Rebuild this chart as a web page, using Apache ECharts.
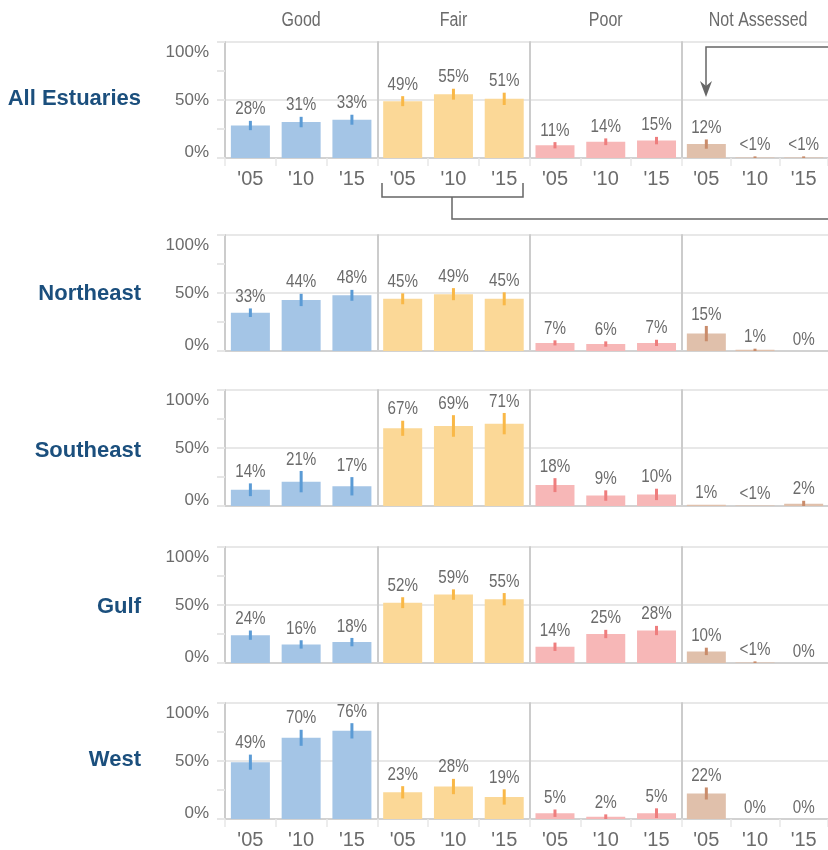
<!DOCTYPE html>
<html><head><meta charset="utf-8">
<script src="https://cdn.jsdelivr.net/npm/echarts@6/dist/echarts.min.js"></script>
<style>html,body{margin:0;padding:0;background:#fff}#c{width:828px;height:850px}</style>
</head><body><div id="c"></div>
<script>
// ---- data ----
const regions = ['All Estuaries', 'Northeast', 'Southeast', 'Gulf', 'West'];
const conditions = ['Good', 'Fair', 'Poor', 'Not Assessed'];
const years = ["'05", "'10", "'15"];
const yTickMax = 100;

// values per region, ordered Good('05,'10,'15), Fair, Poor, Not Assessed  (0.4 => "<1%")
const allEstuariesValues = [28, 31, 33, 49, 55, 51, 11, 14, 15, 12, 0.4, 0.4];
const northeastValues    = [33, 44, 48, 45, 49, 45, 7, 6, 7, 15, 1, 0];
const southeastValues    = [14, 21, 17, 67, 69, 71, 18, 9, 10, 1, 0.4, 2];
const gulfValues         = [24, 16, 18, 52, 59, 55, 14, 25, 28, 10, 0.4, 0];
const westValues         = [49, 70, 76, 23, 28, 19, 5, 2, 5, 22, 0, 0];

// error half-widths (percentage points)
const allEstuariesErr = [4, 4.5, 4.3, 4.3, 4.7, 5.3, 2.7, 2.9, 3.2, 4, 1, 1];
const northeastErr    = [3.7, 5.3, 4.7, 4.7, 5.2, 5.6, 2.2, 2.3, 2.7, 6.6, 1, 0];
const southeastErr    = [5.5, 9.2, 7.9, 6.5, 9.3, 9.2, 6, 4.5, 4.9, 0, 0, 2.5];
const gulfErr         = [4, 3.6, 3.6, 4.7, 4.5, 5.3, 3.6, 3.6, 4, 3.2, 1, 0];
const westErr         = [6.5, 6.9, 6.6, 5.3, 6.6, 6.6, 3.2, 2, 4.2, 5.2, 0, 0];

const regionValues = [allEstuariesValues, northeastValues, southeastValues, gulfValues, westValues];
const regionErr = [allEstuariesErr, northeastErr, southeastErr, gulfErr, westErr];

// ---- styles / layout ----
const barColors = ['#a4c5e6', '#fbd897', '#f7b7b7', '#e0c0ab'];
const errColors = ['#5b9bd5', '#f9b847', '#ee7e7e', '#c98c6b'];
const REG = '"Liberation Sans", Arial, sans-serif';
const NARROW_SCALE = 0.82;
const textGray = '#6b6b6b';
const colLeft = [225, 377.3, 529.6, 682];
const colW = 152.3;
const rowTop = [42, 235, 390, 547, 703];
const rowH = 116;
const titleY = [99, 294, 451, 607, 760];

function fmt(v) { return (v > 0 && v < 1) ? '<1%' : Math.round(v) + '%'; }

const grids = [], xAxes = [], yAxes = [], series = [];
let gi = 0;
for (let r = 0; r < regions.length; r++) {
  for (let c = 0; c < conditions.length; c++) {
    grids.push({ left: colLeft[c], top: rowTop[r], width: colW, height: rowH, containLabel: false });
    const showX = (r === 0 || r === regions.length - 1);
    xAxes.push({
      type: 'category', gridIndex: gi, data: years,
      axisLine: { show: true, lineStyle: { color: '#d2d2d2', width: 2 } },
      axisTick: { show: showX, length: 8, lineStyle: { color: '#e8e8e8', width: 1.5 } },
      axisLabel: { show: showX, margin: 11, fontSize: 20, fontFamily: REG, color: textGray }
    });
    yAxes.push({
      type: 'value', gridIndex: gi, min: 0, max: yTickMax, interval: 50,
      axisLine: { show: true, lineStyle: { color: '#cccccc', width: 2 } },
      axisTick: { show: c === 0, length: 8, lineStyle: { color: '#e6e6e6', width: 2 } },
      minorTick: { show: c === 0, splitNumber: 2, length: 8, lineStyle: { color: '#e6e6e6', width: 2 } },
      splitLine: { show: true, lineStyle: { color: '#e8e8e8', width: 2 } },
      axisLabel: {
        show: c === 0, formatter: '{value}%', margin: 16, fontSize: 17, lineHeight: 12,
        padding: [4, 0, 0, 0],
        fontFamily: REG, color: textGray,
        verticalAlignMinLabel: 'bottom', verticalAlignMaxLabel: 'top'
      }
    });
    const vals = regionValues[r].slice(c * 3, c * 3 + 3);
    const errs = regionErr[r].slice(c * 3, c * 3 + 3);
    series.push({
      type: 'bar', xAxisIndex: gi, yAxisIndex: gi, data: vals, barWidth: 39,
      itemStyle: { color: barColors[c] }, silent: true
    });
    const ec = errColors[c];
    series.push({
      type: 'custom', xAxisIndex: gi, yAxisIndex: gi, silent: true, z: 5,
      data: vals.map((v, i) => [i, v, errs[i]]),
      renderItem: function (params, api) {
        const x = api.value(0), v = api.value(1), e = api.value(2);
        const top = api.coord([x, v + e]);
        const bot = api.coord([x, Math.max(0, v - e)]);
        const children = [];
        if (e > 0) {
          children.push({ type: 'line', shape: { x1: top[0], y1: top[1], x2: bot[0], y2: bot[1] },
            style: { stroke: ec, lineWidth: 3 } });
        }
        children.push({ type: 'text', x: top[0], y: top[1] - 2, scaleX: NARROW_SCALE,
          style: { text: fmt(v), textAlign: 'center', textVerticalAlign: 'bottom',
            fill: textGray, fontSize: 18.5, fontFamily: REG } });
        return { type: 'group', children: children };
      }
    });
    gi++;
  }
}

const graphics = [];
conditions.forEach((name, c) => {
  graphics.push({ type: 'text', x: colLeft[c] + colW / 2, y: 21, scaleX: NARROW_SCALE,
    style: { text: name, textAlign: 'center', textVerticalAlign: 'middle', fill: textGray, fontSize: 19.5, fontFamily: REG } });
});
regions.forEach((name, r) => {
  graphics.push({ type: 'text', x: 141, y: titleY[r],
    style: { text: name, textAlign: 'right', textVerticalAlign: 'middle', fill: '#1b4f7d',
      fontSize: 22, fontWeight: 'bold', fontFamily: REG } });
});
// annotation: bracket under Fair (All Estuaries) connecting to arrow on Not Assessed '05
const annColor = '#666666';
graphics.push({ type: 'polyline', shape: { points: [[382, 183], [382, 197], [523, 197], [523, 183]] },
  style: { stroke: annColor, lineWidth: 1.5, fill: null } });
graphics.push({ type: 'polyline', shape: { points: [[452, 197], [452, 219], [832, 219]] },
  style: { stroke: annColor, lineWidth: 1.5, fill: null } });
graphics.push({ type: 'polyline', shape: { points: [[832, 47], [706, 47], [706, 88]] },
  style: { stroke: annColor, lineWidth: 1.5, fill: null } });
graphics.push({ type: 'polygon', shape: { points: [[700, 81], [706, 97], [712, 81], [706, 86]] },
  style: { fill: annColor } });

const chart = echarts.init(document.getElementById('c'), null, { renderer: 'canvas' });
chart.setOption({
  animation: false,
  backgroundColor: '#ffffff',
  grid: grids, xAxis: xAxes, yAxis: yAxes, series: series,
  graphic: graphics
});
</script>
</body></html>
